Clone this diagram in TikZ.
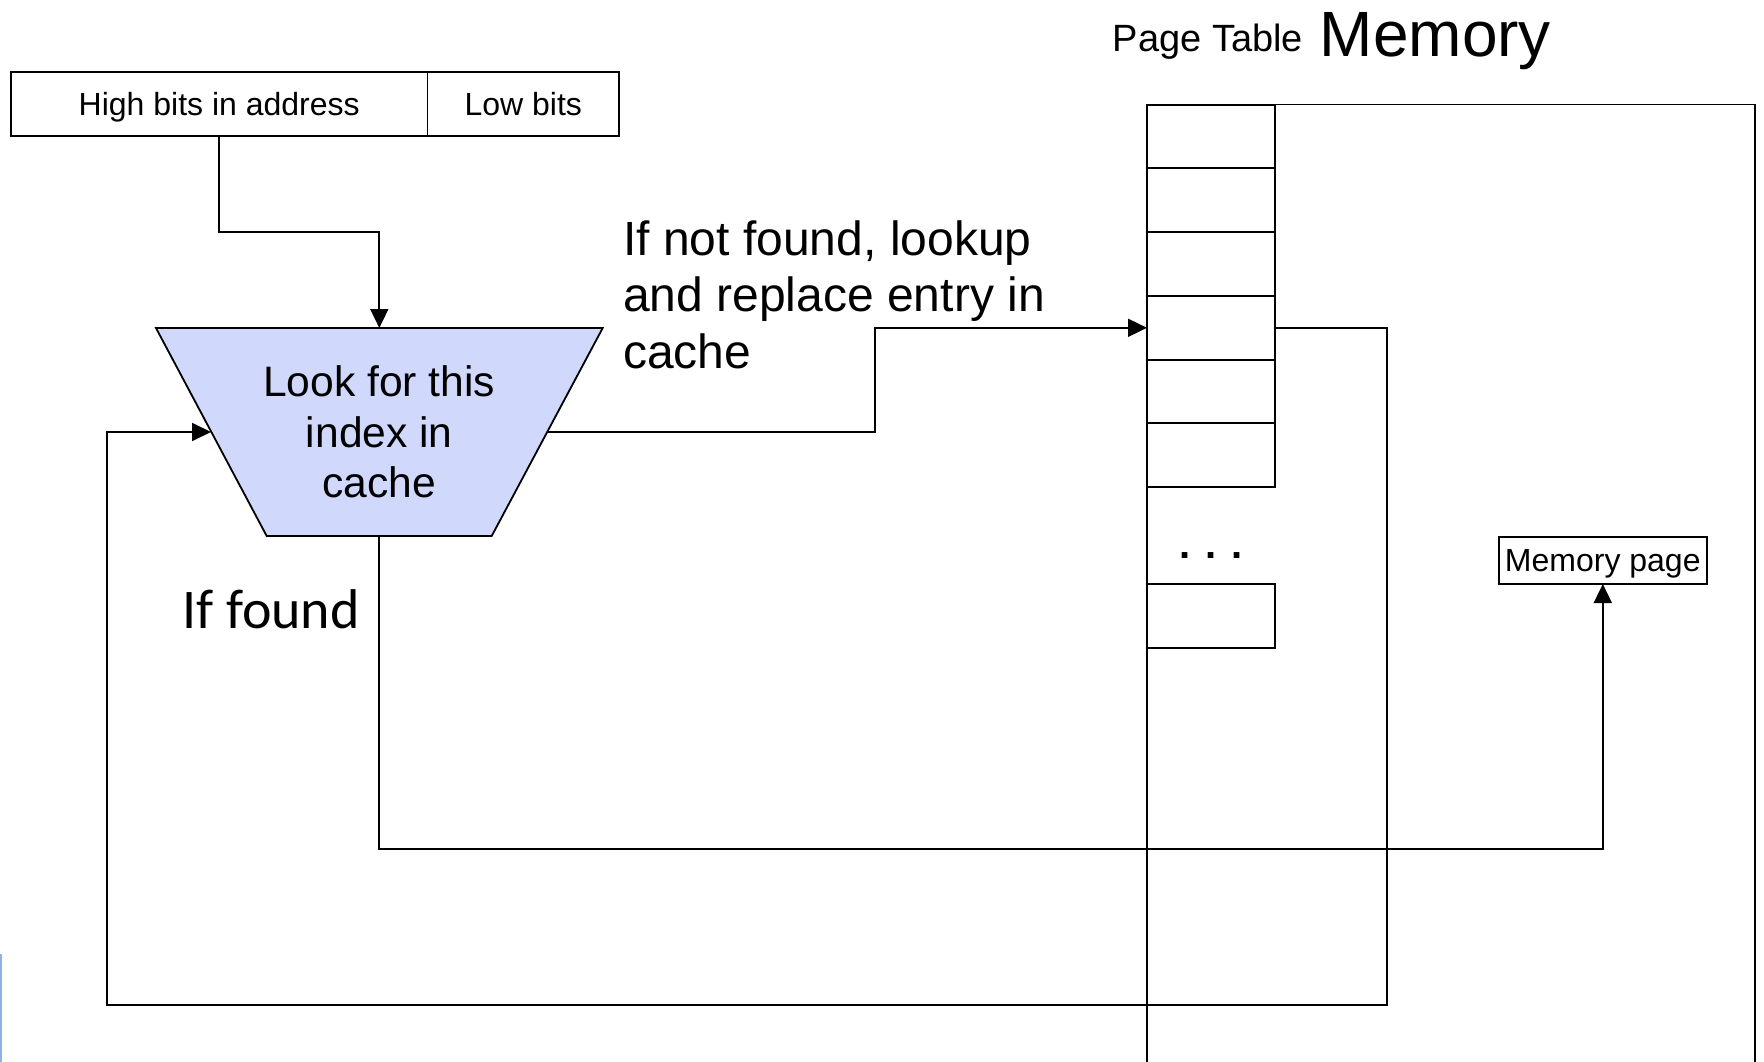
\documentclass[tikz,border=0pt]{standalone}
\usepackage{fontspec}
\setmainfont{Liberation Sans}
\newfontfamily\califont{Carlito}
\usetikzlibrary{arrows.meta}
\definecolor{cachefill}{RGB}{208,216,252}
\definecolor{edgeblue}{RGB}{141,179,226}
\begin{document}
\begin{tikzpicture}[x=1pt,y=-1pt,
  conn/.style={draw=black, line width=1.8pt},
  arr/.style={conn, -{Triangle[length=19pt,width=18pt]}},
  cell/.style={draw=black, line width=1.8pt, inner sep=0pt, outer sep=0pt},
  small/.style={font=\fontsize{32}{38}\selectfont},
  mid/.style={font=\fontsize{42.6}{50.6}\selectfont},
  big/.style={font=\fontsize{48}{56.5}\selectfont}]
\useasboundingbox (0,0) rectangle (1764,1062);

% address
\node[cell, small, minimum width=416.5pt, minimum height=64pt, text height=27pt, text depth=3pt] (hi) at (219.25,104) {High bits in address};
\node[cell, small, minimum width=191.5pt, minimum height=64pt, text height=27pt, text depth=3pt] (lo) at (523.25,104) {Low bits};

% cache trapezoid
\coordinate (cTL) at (156,328);
\coordinate (cTR) at (602.7,328);
\coordinate (cBR) at (491.7,536);
\coordinate (cBL) at (266.7,536);
\draw[fill=cachefill, line width=1.8pt] (cTL) -- (cTR) -- (cBR) -- (cBL) -- cycle;
\node[mid, align=center, inner sep=0pt] (cache) at (379.3,432) {Look for this\\index in\\cache};
\coordinate (cacheT) at (379.3,328);
\coordinate (cacheB) at (379.3,536);
\coordinate (cacheL) at (211,432);
\coordinate (cacheR) at (547.7,432);

% memory region
\draw[line width=1.8pt] (1147,1062) -- (1147,104.6) -- (1755,104.6) -- (1755,1062);

% page table
\foreach \i/\y in {1/136.5,2/200.2,3/264,4/327.8,5/391.5,6/455.3}{
  \node[cell, minimum width=128pt, minimum height=63.7pt] (pt\i) at (1211,\y) {};
}
\node[cell, minimum width=128pt, minimum height=64pt] (ptn) at (1211,616) {};
\node[font=\bfseries\fontsize{40}{48}\selectfont, inner sep=0pt] (dots) at (1211,556) {. . .};

% memory page
\node[cell, small, minimum width=207.6pt, minimum height=47.4pt, text height=27pt, text depth=5pt] (mpage) at (1602.8,560.3) {Memory page};

% titles
\node[anchor=base west, inner sep=0pt, font=\fontsize{38}{45}\selectfont] (pttitle) at (1112.6,51.7) {Page Table};
\node[anchor=base west, inner sep=0pt, font=\fontsize{64}{74}\selectfont] (memtitle) at (1319.6,56.7) {Memory};

% labels
\node[anchor=base west, inner sep=0pt, big, align=left] (notfound) at (623,368) {If not found, lookup\\and replace entry in\\cache};
\node[anchor=base west, inner sep=0pt, font=\califont\fontsize{56}{66}\selectfont] (found) at (182,628) {If found};

% connectors
\coordinate (jog) at (875,432);
\coordinate (r1) at (1387,1005);
\coordinate (l1) at (107,1005);
\coordinate (f1) at (379.3,849);
\draw[arr] (hi.south) -- ++(0,96) -| (cacheT);
\draw[arr] (cacheR) -- (jog) |- (pt4.west);
\draw[arr] (pt4.east) -| (r1) -- (l1) |- (cacheL);
\draw[arr] (cacheB) -- (f1) -| (mpage.south);

% left edge mark
\draw[edgeblue, line width=2.5pt] (1,954) -- (1,1062);
\end{tikzpicture}
\end{document}
